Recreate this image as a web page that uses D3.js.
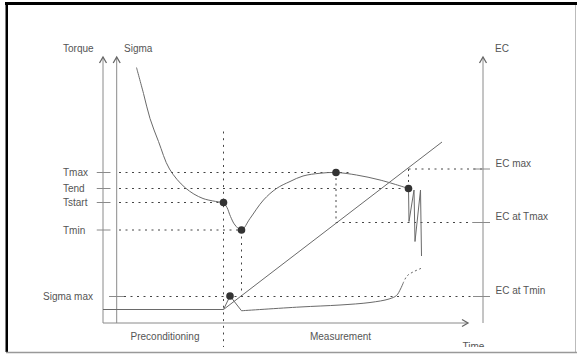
<!DOCTYPE html>
<html>
<head>
<meta charset="utf-8">
<script src="https://cdn.jsdelivr.net/npm/d3@7/dist/d3.min.js"></script>
<style>
  html, body { margin: 0; padding: 0; background: #fff; }
  svg { display: block; }
  text { font-family: "Liberation Sans", Arial, sans-serif; font-size: 10px; fill: #555; }
</style>
</head>
<body>
<svg id="chart" width="577" height="356"></svg>
<script>
// Time axis and shared value axis (schematic units)
const timeDomain = [0, 76];
const valueDomain = [0, 53.2];
const timeArrowEnd = 73;
const sigmaAxisTime = 2.74;

// Characteristic instants
const tStart = 24.1;
const tMin = 27.7;
const tMax = 46.6;
const tEnd = 61.1;

// Torque levels (left axis)
const torqueLabels = ["Tmax", "Tend", "Tstart", "Tmin"];
const torqueValues = [30.1, 26.9, 24.1, 18.6];
const torqueTimes = [tMax, tEnd, tStart, tMin];
const sigmaMaxLabel = "Sigma max";
const sigmaMaxValue = 5.3;

// EC levels (right axis)
const ecLabels = ["EC max", "EC at Tmax", "EC at Tmin"];
const ecValues = [30.8, 20.1, 5.3];

// Sigma decay during preconditioning
const sigmaDecay = [[6.7, 51.1], [8.1, 45.9], [9.4, 40.9], [11.1, 36.3], [13.3, 30.8],
  [16.5, 27.0], [20.0, 24.9], [24.1, 24.1]];
// Torque during measurement
const torqueCurve = [[24.1, 24.1], [24.8, 23.1], [25.5, 21.3], [26.4, 19.6], [27.7, 18.6],
  [29.4, 20.9], [32.1, 24.6], [34.7, 26.9], [37.4, 28.3], [40.0, 29.4], [43.4, 29.95],
  [46.6, 30.1], [50.7, 29.6], [55.4, 28.6], [61.1, 26.9]];
// Oscillation after Tend
const ringing = [[61.1, 26.9], [61.2, 20.3], [62.2, 26.6], [62.4, 16.3], [63.5, 26.6], [63.7, 13.4]];
// EC ramp
const ecRamp = [[24.1, 2.7], [67.8, 36.2]];
// Lower trace
const baseTrace = [[0, 2.7], [24.1, 2.7], [25.4, 5.4], [27.7, 2.45]];
const riseTrace = [[27.7, 2.45], [39.4, 3.2], [47.4, 3.6], [53.4, 4.1], [57.2, 4.8],
  [58.7, 5.5], [59.5, 6.8], [60.0, 7.9]];
const tailTrace = [[60.0, 7.9], [60.8, 9.4], [62.0, 10.2], [63.8, 11.0]];
const sigmaPeak = [25.4, 5.4];

// Phase labels
const phaseLabels = ["Preconditioning", "Measurement"];
const phaseTimes = [12.4, 47.5];

const svg = d3.select("#chart");
const x = d3.scaleLinear().domain(timeDomain).range([103, 483]);
const y = d3.scaleLinear().domain(valueDomain).range([323, 57]);

const axisColor = "#8a8a8a";
const curveColor = "#6a6a6a";
const guideColor = "#444";

const line = d3.line().x(d => x(d[0])).y(d => y(d[1]));
const smooth = d3.line().x(d => x(d[0])).y(d => y(d[1])).curve(d3.curveCatmullRom.alpha(0.5));

// Frame
svg.append("rect").attr("x", 5).attr("y", 2).attr("width", 572).attr("height", 3).attr("fill", "#000");
svg.append("rect").attr("x", 5.5).attr("y", 2).attr("width", 2.5).attr("height", 350).attr("fill", "#000");
svg.append("line").attr("x1", 575.5).attr("x2", 575.5).attr("y1", 5).attr("y2", 352)
  .attr("stroke", "#bbb").attr("stroke-width", 1);

// Axes
const yTop = valueDomain[1];
[0, sigmaAxisTime, timeDomain[1]].forEach(t => {
  svg.append("line").attr("x1", x(t)).attr("x2", x(t)).attr("y1", y(yTop)).attr("y2", y(0))
    .attr("stroke", axisColor).attr("stroke-width", 1);
  svg.append("path")
    .attr("d", `M${x(t) - 3.5},${y(yTop) + 6}L${x(t)},${y(yTop)}L${x(t) + 3.5},${y(yTop) + 6}`)
    .attr("fill", "none").attr("stroke", "#666").attr("stroke-width", 1.3);
});
svg.append("line").attr("x1", x(0)).attr("x2", x(timeArrowEnd)).attr("y1", y(0)).attr("y2", y(0))
  .attr("stroke", axisColor).attr("stroke-width", 1);
svg.append("path")
  .attr("d", `M${x(timeArrowEnd) - 6},${y(0) - 3.5}L${x(timeArrowEnd)},${y(0)}L${x(timeArrowEnd) - 6},${y(0) + 3.5}`)
  .attr("fill", "none").attr("stroke", "#666").attr("stroke-width", 1.3);

// Axis titles
svg.append("text").attr("x", 63).attr("y", 51.5).text("Torque");
svg.append("text").attr("x", 124).attr("y", 51.5).text("Sigma");
svg.append("text").attr("x", 495).attr("y", 51.5).text("EC");

// Guide lines
function guide(x1, y1, x2, y2, dash) {
  svg.append("line").attr("x1", x(x1)).attr("x2", x(x2)).attr("y1", y(y1)).attr("y2", y(y2))
    .attr("stroke", guideColor).attr("stroke-width", 1).attr("stroke-dasharray", dash || "2,4.5");
}
const guideEnds = [49.4, tEnd, tStart, tMin];
torqueValues.forEach((v, i) => guide(3.2, v, guideEnds[i], v));
guide(4.2, sigmaMaxValue, timeDomain[1], sigmaMaxValue);
guide(tEnd, ecValues[0], timeDomain[1], ecValues[0]);
guide(tMax, ecValues[1], timeDomain[1], ecValues[1]);
guide(tEnd, ecValues[0], tEnd, torqueValues[1], "2,3.5");
guide(tMax, torqueValues[0], tMax, ecValues[1], "2,3.5");
guide(tMin, torqueValues[3], tMin, sigmaMaxValue, "2,4.5");
guide(tStart, 38.3, tStart, -5.4, "2,4.7");

// Ticks and labels, left
torqueValues.forEach((v, i) => {
  svg.append("line").attr("x1", x(-1.25)).attr("x2", x(1.5)).attr("y1", y(v)).attr("y2", y(v))
    .attr("stroke", axisColor).attr("stroke-width", 1);
  svg.append("text").attr("x", 63).attr("y", y(v) + 3.8).text(torqueLabels[i]);
});
svg.append("line").attr("x1", x(1.2)).attr("x2", x(4.2)).attr("y1", y(sigmaMaxValue)).attr("y2", y(sigmaMaxValue))
  .attr("stroke", axisColor).attr("stroke-width", 1);
svg.append("text").attr("x", 43).attr("y", y(sigmaMaxValue) + 3.5).text(sigmaMaxLabel);

// Ticks and labels, right
ecValues.forEach((v, i) => {
  svg.append("line").attr("x1", x(74)).attr("x2", x(77.4)).attr("y1", y(v)).attr("y2", y(v))
    .attr("stroke", axisColor).attr("stroke-width", 1);
  svg.append("text").attr("x", 495.5).attr("y", y(v) - 2.2).text(ecLabels[i]);
});

// Curves
const curveAttrs = sel => sel.attr("fill", "none").attr("stroke", curveColor).attr("stroke-width", 1);
svg.append("path").attr("d", smooth(sigmaDecay)).call(curveAttrs);
svg.append("path").attr("d", smooth(torqueCurve)).call(curveAttrs);
svg.append("path").attr("d", line(ringing)).call(curveAttrs);
svg.append("path").attr("d", line(ecRamp)).call(curveAttrs);
svg.append("path").attr("d", line(baseTrace)).call(curveAttrs);
svg.append("path").attr("d", smooth(riseTrace)).call(curveAttrs);
svg.append("path").attr("d", smooth(tailTrace)).call(curveAttrs).attr("stroke-dasharray", "2,2.5");

// Points
const pts = torqueTimes.map((t, i) => [t, torqueValues[i]]).concat([sigmaPeak]);
svg.selectAll("circle.pt").data(pts).enter().append("circle")
  .attr("class", "pt").attr("cx", d => x(d[0])).attr("cy", d => y(d[1])).attr("r", 3.8)
  .attr("fill", "#333");

// Phase labels
phaseLabels.forEach((s, i) => {
  svg.append("text").attr("x", x(phaseTimes[i])).attr("y", 339.5).attr("text-anchor", "middle").text(s);
});
svg.append("text").attr("x", 462.5).attr("y", 350).text("Time");

// Bottom edge of the frame
svg.append("rect").attr("x", 8).attr("y", 347).attr("width", 567).attr("height", 9).attr("fill", "#fff");
svg.append("line").attr("x1", 6).attr("x2", 577).attr("y1", 352.5).attr("y2", 352.5)
  .attr("stroke", "#999").attr("stroke-width", 1.5);
</script>
</body>
</html>
